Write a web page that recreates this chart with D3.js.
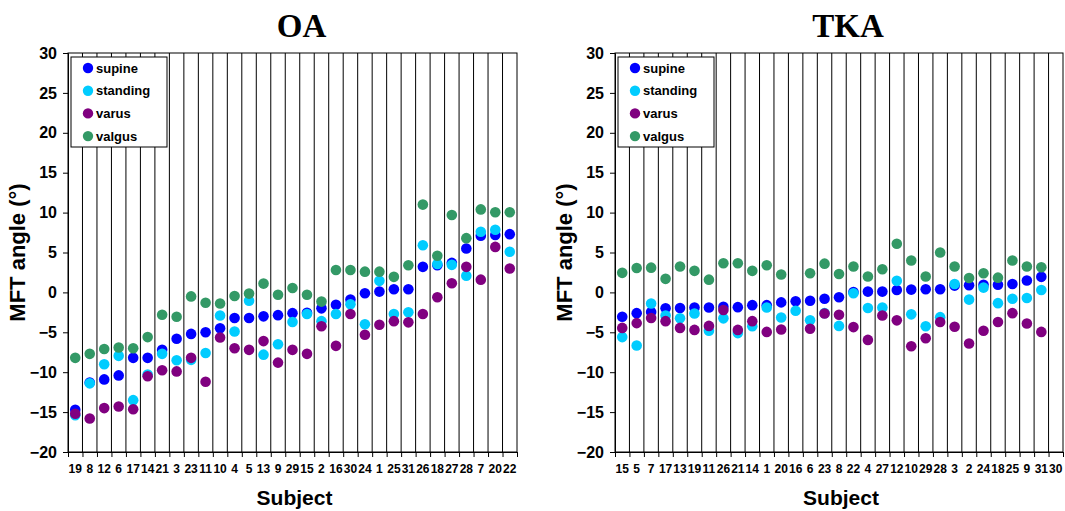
<!DOCTYPE html>
<html>
<head>
<meta charset="utf-8">
<script src="https://cdn.jsdelivr.net/npm/d3@7"></script>
<style>
  html, body { margin: 0; padding: 0; background: #fff; }
  svg { display: block; }
  text { font-family: Arial, "Liberation Sans", sans-serif; }
  text.panel-title { font-family: "Liberation Serif", "Times New Roman", serif; }
</style>
</head>
<body>
<svg id="chart" width="1065" height="511"></svg>
<script>
// Subject order on each x axis (sorted by supine angle)
const oaSubjects = [19, 8, 12, 6, 17, 14, 21, 3, 23, 11, 10, 4, 5, 13, 9, 29, 15, 2, 16, 30, 24, 1, 25, 31, 26, 18, 27, 28, 7, 20, 22];
const tkaSubjects = [15, 5, 7, 17, 13, 19, 11, 26, 21, 14, 1, 20, 16, 6, 23, 8, 22, 4, 27, 12, 10, 29, 28, 3, 2, 24, 18, 25, 9, 31, 30];

// MFT angle (degrees), OA knees
const oaSupine   = [-14.7, -11.3, -10.9, -10.4, -8.2, -8.2, -7.2, -5.8, -5.2, -5.0, -4.5, -3.2, -3.2, -3.0, -2.85, -2.6, -2.55, -2.0, -1.55, -0.9, -0.1, 0.1, 0.4, 0.4, 3.2, 3.4, 3.7, 5.5, 7.1, 7.2, 7.3];
const oaStanding = [-15.4, -11.4, -9.0, -7.95, -13.5, -10.3, -7.7, -8.5, -8.45, -7.6, -2.9, -4.9, -1.05, -7.8, -6.5, -3.7, -2.7, -3.6, -2.7, -1.5, -4.0, 1.45, -2.7, -2.5, 5.9, 3.55, 3.45, 2.1, 7.6, 7.85, 5.1];
const oaVarus    = [-15.2, -15.8, -14.5, -14.3, -14.65, -10.5, -9.75, -9.9, -8.2, -11.2, -5.65, -7.0, -7.2, -6.1, -8.8, -7.2, -7.7, -4.25, -6.7, -2.7, -5.3, -4.05, -3.6, -3.75, -2.7, -0.6, 1.15, 3.2, 1.6, 5.7, 3.0];
const oaValgus   = [-8.2, -7.7, -7.1, -6.9, -7.0, -5.6, -2.8, -3.05, -0.5, -1.3, -1.4, -0.45, -0.15, 1.1, -0.3, 0.55, -0.3, -1.15, 2.8, 2.8, 2.6, 2.6, 1.95, 3.4, 11.0, 4.6, 9.7, 6.8, 10.4, 10.05, 10.05];

// MFT angle (degrees), TKA knees (null = not measured)
const tkaSupine   = [-3.05, -2.6, -2.45, -2.0, -1.95, -1.9, -1.9, -1.8, -1.85, -1.6, -1.6, -1.25, -1.1, -1.05, -0.8, -0.6, 0.05, 0.1, 0.1, 0.3, 0.35, 0.4, 0.4, 0.85, 0.9, 0.95, 0.95, 1.05, 1.5, 1.95, null];
const tkaStanding = [-5.6, -6.65, -1.4, -2.9, -3.25, -2.65, -4.8, -3.25, -5.1, -4.25, -1.9, -3.15, -2.3, -3.5, -2.6, -4.2, -0.1, -1.95, -1.9, 1.45, -2.75, -4.25, -3.1, 1.05, -0.9, 0.6, -1.35, -0.8, -0.7, 0.3, null];
const tkaVarus    = [-4.45, -3.85, -3.2, -3.6, -4.45, -4.7, -4.2, -2.2, -4.7, -3.6, -4.95, -4.65, null, -4.55, -2.65, -2.8, -4.35, -5.95, -2.9, -3.5, -6.75, -5.75, -3.7, -4.3, -6.4, -4.8, -3.7, -2.6, -3.9, -4.95, null];
const tkaValgus   = [2.45, 3.05, 3.1, 1.7, 3.25, 2.7, 1.6, 3.65, 3.65, 2.7, 3.4, 2.25, null, 2.4, 3.6, 2.3, 3.25, 2.0, 2.9, 6.1, 4.0, 2.0, 5.0, 3.25, 1.8, 2.4, 1.85, 4.0, 3.25, 3.15, null];

const seriesNames  = ["supine", "standing", "varus", "valgus"];
const seriesColors = ["#0000ff", "#00ccff", "#800080", "#339966"];
const yTicks = [-20, -15, -10, -5, 0, 5, 10, 15, 20, 25, 30];

const panels = [
  { title: "OA",  left: 68,  right: 517,  subjects: oaSubjects,  values: [oaSupine, oaStanding, oaVarus, oaValgus] },
  { title: "TKA", left: 615, right: 1063, subjects: tkaSubjects, values: [tkaSupine, tkaStanding, tkaVarus, tkaValgus] }
];

const plotTop = 53, plotBottom = 452;
const svg = d3.select("#chart");

panels.forEach(p => {
  const g = svg.append("g");
  const n = p.subjects.length;

  const x = d3.scaleBand().domain(d3.range(n)).range([p.left, p.right]).padding(0);
  const xEdge = d3.scaleLinear().domain([0, n]).range([p.left, p.right]);
  const y = d3.scaleLinear().domain([-20, 30]).range([plotBottom, plotTop]);

  // vertical separators between subjects
  g.append("g").selectAll("line")
    .data(d3.range(1, n))
    .join("line")
    .attr("x1", d => xEdge(d)).attr("x2", d => xEdge(d))
    .attr("y1", plotTop).attr("y2", plotBottom)
    .attr("stroke", "#000").attr("stroke-width", 1);

  // y axis
  const yAxis = g.append("g")
    .attr("transform", `translate(${p.left},0)`)
    .call(d3.axisLeft(y).tickValues(yTicks).tickSize(5).tickPadding(6));
  yAxis.selectAll("text").attr("font-size", 16).attr("font-weight", "bold").attr("fill", "#000");
  yAxis.selectAll("line, path").attr("stroke", "#000");

  // x axis: ticks at subject boundaries
  const xTickAxis = g.append("g")
    .attr("transform", `translate(0,${plotBottom})`)
    .call(d3.axisBottom(xEdge).tickValues(d3.range(0, n + 1)).tickSize(5).tickFormat(""));
  xTickAxis.selectAll("line, path").attr("stroke", "#000");

  // x axis: subject labels centred in each band
  const xLabelAxis = g.append("g")
    .attr("transform", `translate(0,${plotBottom})`)
    .call(d3.axisBottom(x).tickSize(0).tickPadding(12).tickFormat(i => p.subjects[i]));
  xLabelAxis.select("path").remove();
  xLabelAxis.selectAll("text").attr("font-size", 12).attr("font-weight", "bold").attr("fill", "#000");

  // plot frame
  g.append("rect")
    .attr("x", p.left).attr("y", plotTop)
    .attr("width", p.right - p.left).attr("height", plotBottom - plotTop)
    .attr("fill", "none").attr("stroke", "#000").attr("stroke-width", 1);

  // legend box
  const lg = g.append("g").attr("transform", `translate(${p.left + 3},${plotTop + 4})`);
  lg.append("rect")
    .attr("width", 96).attr("height", 90)
    .attr("fill", "#fff").attr("stroke", "#000").attr("stroke-width", 1);
  seriesNames.forEach((name, i) => {
    const row = lg.append("g").attr("transform", `translate(0,${11 + i * 22.7})`);
    row.append("circle").attr("cx", 17).attr("cy", 0).attr("r", 5.2).attr("fill", seriesColors[i]);
    row.append("text").attr("x", 25).attr("y", 0).attr("dy", "0.35em")
      .attr("font-size", 13).attr("font-weight", "bold").attr("fill", "#000").text(name);
  });

  // data points, drawn in series order
  p.values.forEach((vals, si) => {
    g.append("g").selectAll("circle")
      .data(vals.map((v, i) => ({ i, v })).filter(d => d.v !== null))
      .join("circle")
      .attr("cx", d => x(d.i) + x.bandwidth() / 2)
      .attr("cy", d => y(d.v))
      .attr("r", 5.3)
      .attr("fill", seriesColors[si]);
  });

  const cx = (p.left + p.right) / 2;

  // panel title
  g.append("text")
    .attr("class", "panel-title")
    .attr("x", cx + 9).attr("y", 37)
    .attr("text-anchor", "middle")
    .attr("font-size", 33).attr("font-weight", "bold").attr("fill", "#000")
    .text(p.title);

  // axis titles
  g.append("text")
    .attr("x", cx + 2).attr("y", 505)
    .attr("text-anchor", "middle")
    .attr("font-size", 21).attr("font-weight", "bold").attr("fill", "#000")
    .text("Subject");

  g.append("text")
    .attr("transform", `translate(${p.left - 43},${(plotTop + plotBottom) / 2}) rotate(-90)`)
    .attr("text-anchor", "middle")
    .attr("font-size", 22).attr("font-weight", "bold").attr("fill", "#000")
    .text("MFT angle (°)");
});
</script>
</body>
</html>
